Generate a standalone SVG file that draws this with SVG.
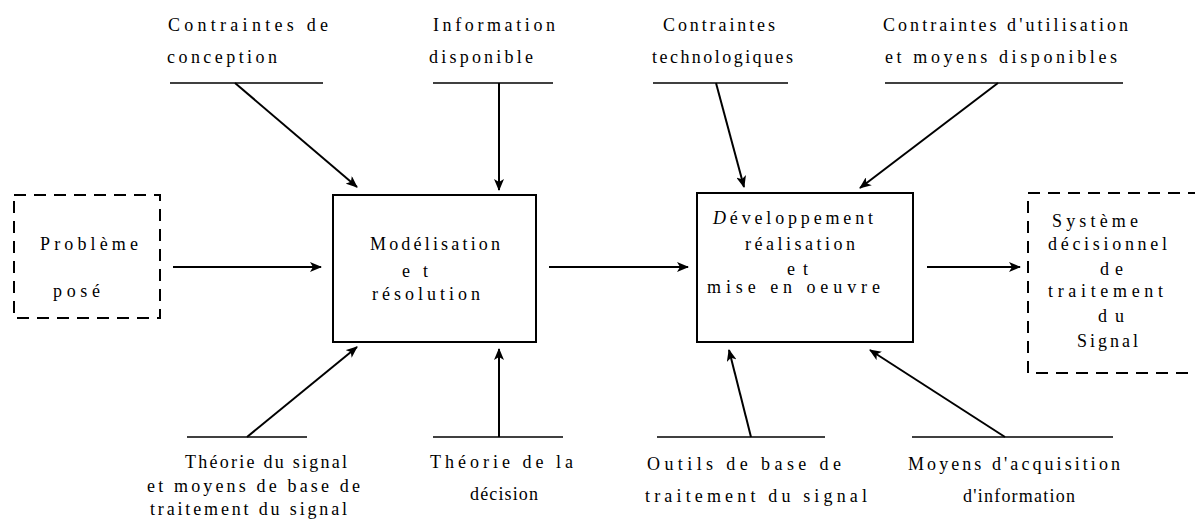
<svg xmlns="http://www.w3.org/2000/svg" width="1195" height="521" viewBox="0 0 1195 521" font-family="'Liberation Serif', 'Times New Roman', serif" font-size="18">
<style>
text{font-family:'Liberation Serif','Times New Roman',serif;font-size:18px;fill:#000}
.box{fill:none;stroke:#000;stroke-width:2}
.dbox{fill:none;stroke:#000;stroke-width:2;stroke-dasharray:12 8}
.bar{stroke:#000;stroke-width:1.6;fill:none}
.arr{stroke:#000;stroke-width:2;fill:none;marker-end:url(#ah)}
</style>
<defs>
<marker id="ah" viewBox="0 0 12 10" refX="11" refY="5" markerWidth="12" markerHeight="10" markerUnits="userSpaceOnUse" orient="auto">
<path d="M0,0 L12,5 L0,10 L3,5 Z" fill="#000"/>
</marker>
</defs>
<rect width="1195" height="521" fill="#fff"/>

<g id="probleme">
<rect class="dbox" x="14" y="195" width="146" height="123"/>
<text x="40" y="250" textLength="98" lengthAdjust="spacing">Problème</text>
<text x="53" y="297" textLength="47" lengthAdjust="spacing">posé</text>
</g>

<g id="modelisation">
<rect class="box" x="333" y="195" width="203" height="147"/>
<text x="370" y="250" textLength="130" lengthAdjust="spacing">Modélisation</text>
<text x="402" y="277" textLength="26" lengthAdjust="spacing">et</text>
<text x="372" y="300" textLength="108" lengthAdjust="spacing">résolution</text>
</g>

<g id="developpement">
<rect class="box" x="697" y="193" width="216" height="149"/>
<text x="713" y="224" textLength="160" lengthAdjust="spacing"><tspan font-style="italic">D</tspan>éveloppement</text>
<text x="745" y="250" textLength="110" lengthAdjust="spacing">réalisation</text>
<text x="787" y="275" textLength="21" lengthAdjust="spacing">et</text>
<text x="707" y="293" textLength="173" lengthAdjust="spacing">mise en oeuvre</text>
</g>

<g id="systeme">
<path class="dbox" d="M1200,193 H1028 V373 H1200"/>
<text x="1052" y="227" textLength="86" lengthAdjust="spacing">Système</text>
<text x="1048" y="250" textLength="119" lengthAdjust="spacing">décisionnel</text>
<text x="1100" y="275" textLength="23" lengthAdjust="spacing">de</text>
<text x="1048" y="297" textLength="115" lengthAdjust="spacing">traitement</text>
<text x="1098" y="322" textLength="26" lengthAdjust="spacing">du</text>
<text x="1077" y="347" textLength="61" lengthAdjust="spacing">Signal</text>
</g>

<g id="contraintes-conception">
<text x="168" y="31" textLength="160" lengthAdjust="spacing">Contraintes de</text>
<text x="167" y="63" textLength="110" lengthAdjust="spacing">conception</text>
<line class="bar" x1="170" y1="83" x2="323" y2="83"/>
</g>
<g id="information-disponible">
<text x="433" y="31" textLength="122" lengthAdjust="spacing">Information</text>
<text x="429" y="63" textLength="104" lengthAdjust="spacing">disponible</text>
<line class="bar" x1="433" y1="83" x2="553" y2="83"/>
</g>
<g id="contraintes-techno">
<text x="663" y="31" textLength="112" lengthAdjust="spacing">Contraintes</text>
<text x="652" y="63" textLength="141" lengthAdjust="spacing">technologiques</text>
<line class="bar" x1="653" y1="83" x2="788" y2="83"/>
</g>
<g id="contraintes-utilisation">
<text x="883" y="31" textLength="245" lengthAdjust="spacing">Contraintes d'utilisation</text>
<text x="885" y="63" textLength="232" lengthAdjust="spacing">et moyens disponibles</text>
<line class="bar" x1="885" y1="83" x2="1123" y2="83"/>
</g>

<g id="theorie-signal">
<line class="bar" x1="187" y1="437" x2="307" y2="437"/>
<text x="185" y="468" textLength="162" lengthAdjust="spacing">Théorie du signal</text>
<text x="147" y="492" textLength="213" lengthAdjust="spacing">et moyens de base de</text>
<text x="150" y="515" textLength="197" lengthAdjust="spacing">traitement du signal</text>
</g>
<g id="theorie-decision">
<line class="bar" x1="433" y1="437" x2="563" y2="437"/>
<text x="430" y="468" textLength="143" lengthAdjust="spacing">Théorie de la</text>
<text x="470" y="500" textLength="68" lengthAdjust="spacing">décision</text>
</g>
<g id="outils">
<line class="bar" x1="657" y1="437" x2="825" y2="437"/>
<text x="647" y="470" textLength="194" lengthAdjust="spacing">Outils de base de</text>
<text x="645" y="502" textLength="222" lengthAdjust="spacing">traitement du signal</text>
</g>
<g id="moyens-acquisition">
<line class="bar" x1="912" y1="437" x2="1113" y2="437"/>
<text x="908" y="470" textLength="212" lengthAdjust="spacing">Moyens d'acquisition</text>
<text x="963" y="502" textLength="112" lengthAdjust="spacing">d'information</text>
</g>

<g id="connectors">
<line class="arr" x1="173" y1="267" x2="321" y2="267"/>
<line class="arr" x1="549" y1="267" x2="688" y2="267"/>
<line class="arr" x1="927" y1="267" x2="1020" y2="267"/>
<line class="arr" x1="235" y1="83" x2="357" y2="187"/>
<line class="arr" x1="499" y1="83" x2="499" y2="190"/>
<line class="arr" x1="716" y1="83" x2="744" y2="187"/>
<line class="arr" x1="998" y1="83" x2="860" y2="188"/>
<line class="arr" x1="247" y1="437" x2="357" y2="347"/>
<line class="arr" x1="499" y1="437" x2="499" y2="349"/>
<line class="arr" x1="751" y1="437" x2="729" y2="350"/>
<line class="arr" x1="1005" y1="437" x2="870" y2="350"/>
</g>
</svg>
